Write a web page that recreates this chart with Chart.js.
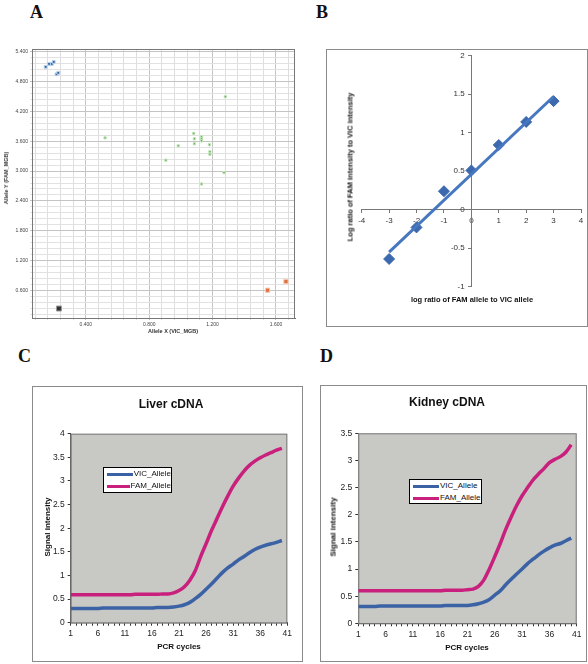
<!DOCTYPE html>
<html>
<head>
<meta charset="utf-8">
<script src="https://cdn.jsdelivr.net/npm/chart.js@4/dist/chart.umd.min.js"></script>
<style>
body{margin:0;background:#fff;width:588px;height:664px;position:relative;overflow:hidden;font-family:"Liberation Sans",Arial,sans-serif;color:#111}
.abs{position:absolute;white-space:nowrap}
.letter{font-family:"Liberation Serif",serif;font-weight:bold;font-size:18px}
.box{position:absolute;border:1px solid #8a8a8a;box-sizing:border-box}
.ctr{transform:translate(-50%,-50%)}
.rot{transform:translate(-50%,-50%) rotate(-90deg)}
.b{font-weight:bold}
canvas{position:absolute}
.legend{position:absolute;background:#fff;border:1px solid #000;box-sizing:border-box;font-size:8px}
.legend div{height:12px;line-height:12px;display:flex;align-items:center}
.legend span.sw{display:inline-block;width:26px;height:3px;margin:0 1px 0 3px}
</style>
</head>
<body>

<div class="abs letter" style="left:30px;top:2px">A</div>
<div class="abs letter" style="left:316px;top:2px">B</div>
<div class="abs letter" style="left:18px;top:346px">C</div>
<div class="abs letter" style="left:320px;top:346px">D</div>

<!-- panel A -->
<canvas id="chartA" width="300" height="300" style="left:0;top:40px"></canvas>
<div class="abs b rot" style="left:6px;top:178px;font-size:5.5px;color:#333">Allele Y (FAM_MGB)</div>
<div class="abs b ctr" style="left:173px;top:331px;font-size:5.5px;color:#333">Allele X (VIC_MGB)</div>

<!-- panel B -->
<div class="box" style="left:326px;top:49px;width:262px;height:278px"></div>
<canvas id="chartB" width="288" height="300" style="left:300px;top:40px"></canvas>
<div class="abs b rot" style="left:350px;top:167px;font-size:7.5px">Log ratio of FAM intensity to VIC intensity</div>
<div class="abs b ctr" style="left:472px;top:299px;font-size:7.5px">log ratio of FAM allele to VIC allele</div>

<!-- panel C -->
<div class="box" style="left:32px;top:386px;width:271px;height:276px"></div>
<canvas id="chartC" width="270" height="276" style="left:32px;top:386px"></canvas>
<div class="abs b ctr" style="left:171px;top:404px;font-size:12px">Liver cDNA</div>
<div class="abs b rot" style="left:47px;top:527px;font-size:8px">Signal intensity</div>
<div class="abs b ctr" style="left:179px;top:646px;font-size:8px">PCR cycles</div>
<div class="legend" id="legendC" style="left:103px;top:467px;width:69px;height:26px"></div>

<!-- panel D -->
<div class="box" style="left:320px;top:385px;width:267px;height:277px"></div>
<canvas id="chartD" width="267" height="277" style="left:320px;top:385px"></canvas>
<div class="abs b ctr" style="left:447px;top:402px;font-size:12px">Kidney cDNA</div>
<div class="abs b rot" style="left:333px;top:527px;font-size:8px">Signal intensity</div>
<div class="abs b ctr" style="left:467px;top:647px;font-size:8px">PCR cycles</div>
<div class="legend" id="legendD" style="left:409px;top:479px;width:73px;height:25px"></div>

<script>
// ---- panel A : allelic discrimination plot
var famHomoX = [0.146, 0.168, 0.185, 0.197, 0.215, 0.226];
var famHomoY = [5.10, 5.16, 5.16, 5.20, 4.95, 4.98];
var heteroX = [1.280, 0.521, 0.905, 0.983, 1.081, 1.085, 1.085, 1.130, 1.130, 1.130, 1.180, 1.183, 1.183, 1.272, 1.130];
var heteroY = [4.50, 3.67, 3.22, 3.51, 3.76, 3.65, 3.55, 3.69, 3.65, 3.61, 3.53, 3.39, 3.34, 2.97, 2.74];
var vicHomoX = [1.547, 1.663];
var vicHomoY = [0.60, 0.775];
var ntcX = [0.230];
var ntcY = [0.231];
var aXTicks = [0.4, 0.8, 1.2, 1.6];
var aYTicks = [0.6, 1.2, 1.8, 2.4, 3.0, 3.6, 4.2, 4.8, 5.4];

// ---- panel B : standard curve
var logAlleleRatio = [-3, -2, -1, 0, 1, 2, 3];
var logIntensityRatio = [-0.64, -0.23, 0.24, 0.51, 0.84, 1.14, 1.41];
var fitX = [-3, 3];
var fitY = [-0.55, 1.47];

// ---- panels C, D : amplification plots
var cycles = [1,2,3,4,5,6,7,8,9,10,11,12,13,14,15,16,17,18,19,20,21,22,23,24,25,26,27,28,29,30,31,32,33,34,35,36,37,38,39,40];
var seriesNames = ['VIC_Allele', 'FAM_Allele'];
var liverVic = [0.30,0.30,0.30,0.30,0.30,0.30,0.31,0.31,0.31,0.31,0.31,0.31,0.31,0.31,0.31,0.31,0.32,0.32,0.32,0.33,
                0.35,0.38,0.43,0.51,0.60,0.71,0.82,0.94,1.06,1.16,1.24,1.33,1.40,1.48,1.55,1.60,1.64,1.67,1.70,1.74];
var liverFam = [0.59,0.59,0.59,0.59,0.59,0.59,0.59,0.59,0.59,0.59,0.59,0.59,0.60,0.60,0.60,0.60,0.60,0.61,0.61,0.63,
                0.68,0.76,0.90,1.10,1.40,1.67,1.95,2.20,2.45,2.68,2.89,3.06,3.21,3.33,3.42,3.49,3.55,3.60,3.65,3.69];
var kidneyVic = [0.31,0.31,0.31,0.31,0.32,0.32,0.32,0.32,0.32,0.32,0.32,0.32,0.32,0.32,0.32,0.32,0.33,0.33,0.33,0.33,
                 0.33,0.34,0.36,0.39,0.44,0.52,0.60,0.71,0.81,0.91,1.00,1.10,1.18,1.26,1.33,1.39,1.44,1.47,1.52,1.57];
var kidneyFam = [0.60,0.60,0.60,0.60,0.60,0.60,0.60,0.60,0.60,0.60,0.60,0.60,0.60,0.60,0.60,0.60,0.61,0.61,0.61,0.61,
                 0.62,0.63,0.68,0.80,1.00,1.23,1.47,1.73,1.96,2.17,2.35,2.50,2.64,2.75,2.85,2.96,3.02,3.07,3.15,3.29];
var pcrXTicks = [1, 6, 11, 16, 21, 26, 31, 36, 41];

var vicColor = '#3c62a6';
var famColor = '#c8207c';

Chart.defaults.font.family = '"Liberation Sans", Arial, sans-serif';
Chart.defaults.color = '#222';
Chart.defaults.devicePixelRatio = 1;

function pts(xs, ys) {
	return xs.map(function(x, i) { return {x: x, y: ys[i]}; });
}

function fixWidth(w) { return function(s) { s.width = w; }; }
function fixHeight(h) { return function(s) { s.height = h; }; }
function plainNum(v) { return String(+v.toFixed(2)); }

// draws a frame (and optionally a fill) behind the plot area
var areaPlugin = {
	id: 'area',
	beforeDatasetsDraw: function(chart, args, opts) {
		var a = chart.chartArea, c = chart.ctx;
		c.save();
		if (opts.fill) {
			c.fillStyle = opts.fill;
			c.fillRect(a.left, a.top, a.right - a.left, a.bottom - a.top);
		}
		if (opts.stroke) {
			c.strokeStyle = opts.stroke;
			c.lineWidth = 1;
			c.strokeRect(a.left + 0.5, a.top + 0.5, a.right - a.left - 1, a.bottom - a.top);
		}
		c.restore();
	}
};

// ---- A
(function() {
	var xGrid = [], yGrid = [];
	for (var i = 1; i <= 21; i++) xGrid.push(+(i * 0.08).toFixed(2));
	for (var j = 1; j <= 45; j++) yGrid.push(+(j * 0.12).toFixed(2));
	function isMajor(list, v) { return list.some(function(t) { return Math.abs(t - v) < 1e-6; }); }

	new Chart(document.getElementById('chartA'), {
		type: 'scatter',
		data: {
			datasets: [
				{ data: pts(famHomoX, famHomoY), pointStyle: 'rect', pointRadius: 2, backgroundColor: '#2f5f9a', borderColor: '#b9d3ee', borderWidth: 1 },
				{ data: pts(heteroX, heteroY), pointStyle: 'rect', pointRadius: 1.6, backgroundColor: '#55aa44', borderColor: '#c5e6bd', borderWidth: 1 },
				{ data: pts(vicHomoX, vicHomoY), pointStyle: 'rect', pointRadius: 3, backgroundColor: '#e0703c', borderColor: '#f6c8b2', borderWidth: 1 },
				{ data: pts(ntcX, ntcY), pointStyle: 'rect', pointRadius: 3.5, backgroundColor: '#333', borderColor: '#999', borderWidth: 1 }
			]
		},
		options: {
			responsive: false,
			animation: false,
			layout: { padding: { left: 0, right: 0, top: 9, bottom: 0 } },
			plugins: { legend: { display: false }, tooltip: { enabled: false }, area: { stroke: '#777' } },
			scales: {
				x: {
					min: 0.06, max: 1.72,
					afterFit: fixHeight(22),
					afterBuildTicks: function(s) { s.ticks = xGrid.map(function(v) { return {value: v}; }); },
					ticks: { autoSkip: false, maxRotation: 0, padding: 2, font: { size: 5 }, color: '#444',
						callback: function(v) { return isMajor(aXTicks, v) ? v.toFixed(3) : ''; } },
					grid: { color: function(c) { return c.tick && isMajor(aXTicks, c.tick.value) ? '#c4c4c4' : '#dedede'; }, tickLength: 2 },
					border: { color: '#666' }
				},
				y: {
					min: 0.04, max: 5.46,
					afterFit: fixWidth(32),
					afterBuildTicks: function(s) { s.ticks = yGrid.map(function(v) { return {value: v}; }); },
					ticks: { autoSkip: false, padding: 2, font: { size: 5 }, color: '#444',
						callback: function(v) { return isMajor(aYTicks, v) ? v.toFixed(3) : ''; } },
					grid: { color: function(c) { return c.tick && isMajor(aYTicks, c.tick.value) ? '#c4c4c4' : '#e2e2e2'; }, tickLength: 2 },
					border: { color: '#666' }
				}
			}
		},
		plugins: [areaPlugin]
	});
})();

// ---- B
new Chart(document.getElementById('chartB'), {
	type: 'scatter',
	data: {
		datasets: [
			{ data: pts(fitX, fitY), showLine: true, pointRadius: 0, borderColor: '#4677bf', borderWidth: 3 },
			{ data: pts(logAlleleRatio, logIntensityRatio), pointStyle: 'rectRot', pointRadius: 5.5, backgroundColor: '#3c68ad', borderColor: '#3c68ad' }
		]
	},
	options: {
		responsive: false,
		animation: false,
		layout: { padding: { left: 61.7, right: 7, top: 15.7, bottom: 53.3 } },
		plugins: { legend: { display: false }, tooltip: { enabled: false } },
		scales: {
			x: {
				position: { y: 0 },
				min: -4, max: 4,
				ticks: { stepSize: 1, font: { size: 8 }, padding: 3, color: '#333', callback: plainNum },
				grid: { drawOnChartArea: false, tickLength: 3, color: '#777' },
				border: { color: '#777' }
			},
			y: {
				position: { x: 0 },
				min: -1, max: 2,
				// a centred axis draws its labels flush against the line, trailing spaces push them off it
				ticks: { stepSize: 0.5, font: { size: 8 }, color: '#333', callback: function(v) { return plainNum(v) + '   '; } },
				grid: { drawOnChartArea: false, tickLength: 3, color: '#777' },
				border: { color: '#777' }
			}
		}
	}
});

// ---- C, D
function drawPcrChart(id, legendId, vic, fam, yMax, pad, yWidth, xHeight) {
	var data = [vic, fam];
	var colors = [vicColor, famColor];
	new Chart(document.getElementById(id), {
		type: 'scatter',
		data: {
			datasets: seriesNames.map(function(name, i) {
				return { label: name, data: pts(cycles, data[i]), showLine: true, pointRadius: 0,
					borderColor: colors[i], borderWidth: 3.5, tension: 0.4, cubicInterpolationMode: 'monotone' };
			})
		},
		options: {
			responsive: false,
			animation: false,
			layout: { padding: pad },
			plugins: { legend: { display: false }, tooltip: { enabled: false }, area: { fill: '#c8c8c5', stroke: '#7a7a7a' } },
			scales: {
				x: {
					min: 1, max: 41,
					afterFit: fixHeight(xHeight),
					afterBuildTicks: function(s) {
						var t = [];
						for (var c = 1; c <= 41; c++) t.push({value: c});
						s.ticks = t;
					},
					ticks: { autoSkip: false, maxRotation: 0, padding: 3, font: { size: 8.5 },
						callback: function(v) { return pcrXTicks.indexOf(v) >= 0 ? v : ''; } },
					grid: { drawOnChartArea: false, tickLength: 3, color: '#333' },
					border: { color: '#333' }
				},
				y: {
					min: 0, max: yMax,
					afterFit: fixWidth(yWidth),
					ticks: { stepSize: 0.5, padding: 3, font: { size: 8.5 }, callback: plainNum },
					grid: { drawOnChartArea: false, tickLength: 3, color: '#333' },
					border: { color: '#333' }
				}
			}
		},
		plugins: [areaPlugin]
	});
	var lg = document.getElementById(legendId);
	seriesNames.forEach(function(name, i) {
		var row = document.createElement('div');
		row.innerHTML = '<span class="sw" style="background:' + colors[i] + '"></span>' + name;
		lg.appendChild(row);
	});
}

drawPcrChart('chartC', 'legendC', liverVic, liverFam, 4, { left: 0, right: 14.7, top: 47.7, bottom: 0 }, 38.7, 39.3);
drawPcrChart('chartD', 'legendD', kidneyVic, kidneyFam, 3.5, { left: 0, right: 10.3, top: 48.3, bottom: 0 }, 38.3, 38.7);
</script>
</body>
</html>
